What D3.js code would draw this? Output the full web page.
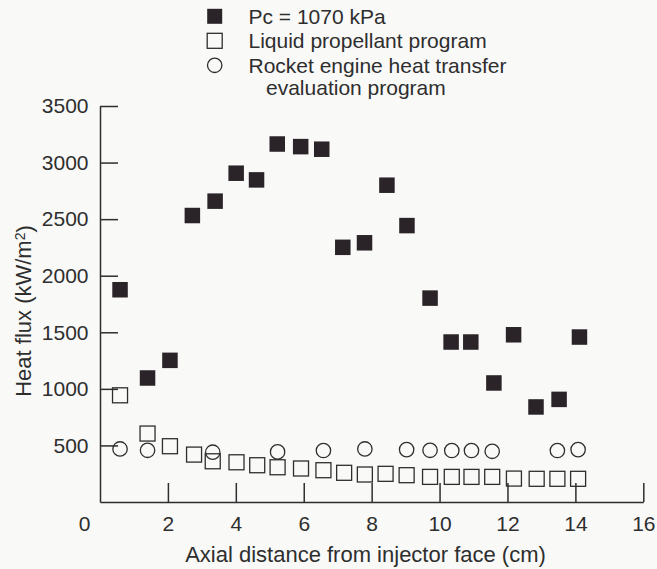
<!DOCTYPE html>
<html>
<head>
<meta charset="utf-8">
<script src="https://cdn.jsdelivr.net/npm/d3@7"></script>
<style>
  html, body { margin: 0; padding: 0; background: #f9f9f8; }
  svg { display: block; }
  text { font-family: "Liberation Sans", Arial, Helvetica, sans-serif; fill: #2e2e2e; }
</style>
</head>
<body>
<svg id="chart" width="657" height="569"></svg>
<script>
// ---- data ----
const pcX = [0.59, 1.40, 2.06, 2.72, 3.39, 4.01, 4.61, 5.22, 5.91, 6.53, 7.15, 7.79, 8.45, 9.04, 9.72, 10.34, 10.92, 11.60, 12.18, 12.84, 13.52, 14.12];
const pcY = [1876, 1096, 1252, 2532, 2659, 2906, 2847, 3164, 3141, 3118, 2251, 2291, 2800, 2443, 1802, 1414, 1414, 1052, 1478, 840, 907, 1458];

const lppX = [0.59, 1.40, 2.06, 2.77, 3.32, 4.02, 4.63, 5.23, 5.92, 6.58, 7.19, 7.80, 8.41, 9.03, 9.72, 10.36, 10.94, 11.55, 12.19, 12.86, 13.47, 14.08];
const lppY = [943, 605, 493, 419, 360, 351, 325, 307, 296, 281, 258, 243, 249, 237, 222, 222, 222, 222, 207, 205, 205, 205];

const rehtX = [0.59, 1.40, 3.32, 5.23, 6.58, 7.80, 9.03, 9.72, 10.36, 10.94, 11.55, 13.47, 14.08];
const rehtY = [469, 457, 440, 443, 455, 469, 463, 457, 455, 455, 448, 455, 463];

const xTicks = [0, 2, 4, 6, 8, 10, 12, 14, 16];
const yTicks = [500, 1000, 1500, 2000, 2500, 3000, 3500];
const legendLabels = [["Pc = 1070 kPa"], ["Liquid propellant program"], ["Rocket engine heat transfer", "evaluation program"]];
const xTitle = "Axial distance from injector face (cm)";

// ---- layout ----
const svg = d3.select("#chart");
const ink = "#2e2e2e";
const x = d3.scaleLinear().domain([0, 16]).range([100, 643.3]);
const y = d3.scaleLinear().domain([0, 3500]).range([502, 106]);

// axes
const xAxis = d3.axisBottom(x).tickValues(xTicks).tickFormat(d3.format("d"))
  .tickSize(-19).tickSizeOuter(0).tickPadding(14.5);
const gx = svg.append("g").attr("transform", `translate(0,${y(0)})`).call(xAxis);
gx.selectAll("text").style("font-size", "21px").attr("fill", ink)
  .attr("dx", d => d === 0 ? "-16" : "0");
gx.selectAll(".tick line").attr("stroke", ink).attr("stroke-width", 1.5)
  .attr("display", d => d === 0 ? "none" : null);
gx.select(".domain").attr("stroke", ink).attr("stroke-width", 1.5);

const yAxis = d3.axisLeft(y).tickValues(yTicks).tickFormat(d3.format("d"))
  .tickSize(-18).tickSizeOuter(0).tickPadding(11.5);
const gy = svg.append("g").attr("transform", `translate(${x(0)},0)`).call(yAxis);
gy.selectAll("text").style("font-size", "21px").attr("fill", ink);
gy.selectAll(".tick line").attr("stroke", ink).attr("stroke-width", 1.5);
gy.select(".domain").attr("stroke", ink).attr("stroke-width", 1.5);

// axis titles
svg.append("text")
  .attr("x", 365.5).attr("y", 561.5)
  .attr("text-anchor", "middle").style("font-size", "22px")
  .text(xTitle);

const yt = svg.append("text")
  .attr("transform", "translate(31,311) rotate(-90)")
  .attr("text-anchor", "middle").style("font-size", "22px");
yt.append("tspan").text("Heat flux (kW/m");
yt.append("tspan").attr("dy", "-0.45em").style("font-size", "14px").text("2");
yt.append("tspan").attr("dy", "0.31em").text(")");

// marks
const sq = 15.5;
svg.append("g").selectAll("rect").data(lppX.map((v, i) => [v, lppY[i]])).join("rect")
  .attr("x", d => x(d[0]) - 7.5).attr("y", d => y(d[1]) - 7.5)
  .attr("width", 15).attr("height", 15)
  .attr("fill", "none").attr("stroke", ink).attr("stroke-width", 1.3);

svg.append("g").selectAll("circle").data(rehtX.map((v, i) => [v, rehtY[i]])).join("circle")
  .attr("cx", d => x(d[0])).attr("cy", d => y(d[1])).attr("r", 7.2)
  .attr("fill", "none").attr("stroke", ink).attr("stroke-width", 1.3);

svg.append("g").selectAll("rect").data(pcX.map((v, i) => [v, pcY[i]])).join("rect")
  .attr("x", d => x(d[0]) - sq / 2).attr("y", d => y(d[1]) - sq / 2)
  .attr("width", sq).attr("height", sq)
  .attr("fill", "#2a2327");

// legend
const lg = svg.append("g");
const lx = 214.7, tx = 248.5;
const rowY = [16.3, 40.8, 65.3];
const baseY = [23.5, 48, 72.7];
lg.append("rect").attr("x", lx - 7.5).attr("y", rowY[0] - 7.5).attr("width", 15).attr("height", 15).attr("fill", "#2a2327");
lg.append("rect").attr("x", lx - 7.5).attr("y", rowY[1] - 7.5).attr("width", 15).attr("height", 15)
  .attr("fill", "none").attr("stroke", ink).attr("stroke-width", 1.3);
lg.append("circle").attr("cx", lx).attr("cy", rowY[2]).attr("r", 7.2)
  .attr("fill", "none").attr("stroke", ink).attr("stroke-width", 1.3);
legendLabels.forEach((lines, i) => {
  lines.forEach((s, j) => {
    lg.append("text").attr("x", j === 0 ? tx : 266).attr("y", baseY[i] + j * 22.3)
      .style("font-size", "21px").text(s);
  });
});
</script>
</body>
</html>
